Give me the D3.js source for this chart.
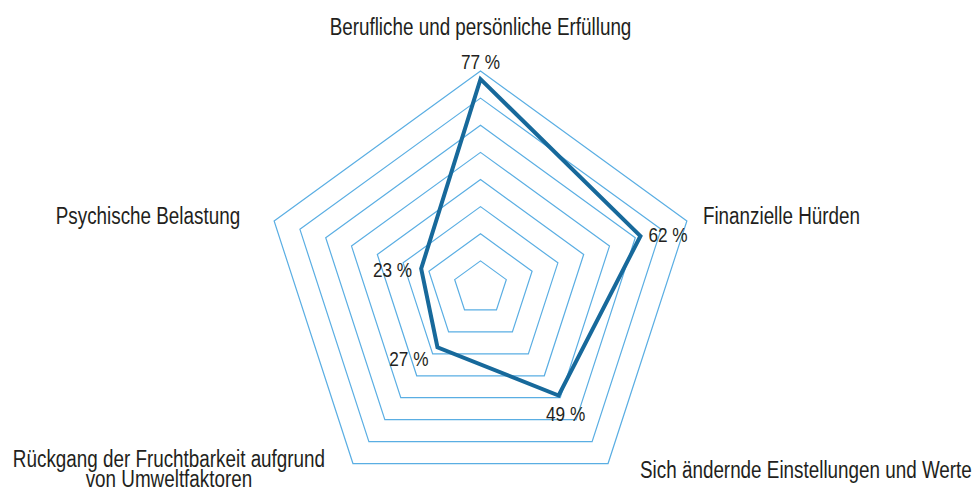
<!DOCTYPE html>
<html>
<head>
<meta charset="utf-8">
<script src="https://cdn.jsdelivr.net/npm/d3@7"></script>
<style>
  body { margin: 0; background: #fff; }
  svg text { font-family: "Liberation Sans", Arial, sans-serif; fill: #231f20; }
</style>
</head>
<body>
<script>
// categories clockwise from the top
const categories = [
    "Berufliche und persönliche Erfüllung",
    "Finanzielle Hürden",
    "Sich ändernde Einstellungen und Werte",
    "Rückgang der Fruchtbarkeit aufgrund von Umweltfaktoren",
    "Psychische Belastung"
];
const values = [77, 62, 49, 27, 23];
const gridLevels = [10, 20, 30, 40, 50, 60, 70, 80];

const width = 973, height = 496;
const cx = 480.5, cy = 288, radius = 217;
const narrow = 0.82; // squeeze text horizontally, the original uses a condensed face

const svg = d3.select('body').append('svg')
    .attr('width', width)
    .attr('height', height);

const g = svg.append('g')
    .attr('transform', `translate(${cx}, ${cy})`);

const r = d3.scaleLinear()
    .domain([0, 80])
    .range([0, radius]);

const angle = d3.scalePoint()
    .domain(d3.range(categories.length + 1))
    .range([0, 2 * Math.PI]);

const radial = d3.lineRadial()
    .angle((d, i) => angle(i))
    .radius(d => r(d))
    .curve(d3.curveLinearClosed);

// grid pentagons
g.selectAll('.grid')
    .data(gridLevels)
    .enter()
    .append('path')
    .attr('class', 'grid')
    .attr('d', lvl => radial(categories.map(() => lvl)))
    .attr('fill', 'none')
    .attr('stroke', '#5aaee3')
    .attr('stroke-width', 1.2);

// data line
g.append('path')
    .attr('d', radial(values))
    .attr('fill', 'none')
    .attr('stroke', '#17699b')
    .attr('stroke-width', 4)
    .attr('stroke-linejoin', 'miter');

function pt(i, v) {
    const a = angle(i);
    return [r(v) * Math.sin(a), -r(v) * Math.cos(a)];
}

function label(x, y, anchor, size) {
    return g.append('text')
        .attr('transform', `translate(${x}, ${y}) scale(${narrow}, 1)`)
        .attr('text-anchor', anchor)
        .style('font-size', size + 'px');
}

// category labels (offsets from the outer vertex)
const catPos = [
    { dx: 0, dy: -36, anchor: 'middle' },
    { dx: 16, dy: 3, anchor: 'start' },
    { dx: 32, dy: 14, anchor: 'start' },
    { dx: -184, dy: 3, anchor: 'middle', lines: ["Rückgang der Fruchtbarkeit aufgrund", "von Umweltfaktoren"] },
    { dx: -34, dy: 3, anchor: 'end' }
];

categories.forEach((c, i) => {
    const [x, y] = pt(i, 80);
    const p = catPos[i];
    const t = label(x + p.dx, y + p.dy, p.anchor, 23);
    if (p.lines) {
        p.lines.forEach((l, j) => {
            t.append('tspan')
                .attr('x', 0)
                .attr('dy', j === 0 ? 0 : 20.5)
                .text(l);
        });
    } else {
        t.text(c);
    }
});

// value labels (offsets from the data point)
const valPos = [
    { dx: 0, dy: -10, anchor: 'middle' },
    { dx: 8, dy: 6, anchor: 'start' },
    { dx: 7, dy: 25, anchor: 'middle' },
    { dx: -9, dy: 19, anchor: 'end' },
    { dx: -9, dy: 8, anchor: 'end' }
];

values.forEach((v, i) => {
    const [x, y] = pt(i, v);
    const p = valPos[i];
    label(x + p.dx, y + p.dy, p.anchor, 21).text(v + ' %');
});
</script>
</body>
</html>
